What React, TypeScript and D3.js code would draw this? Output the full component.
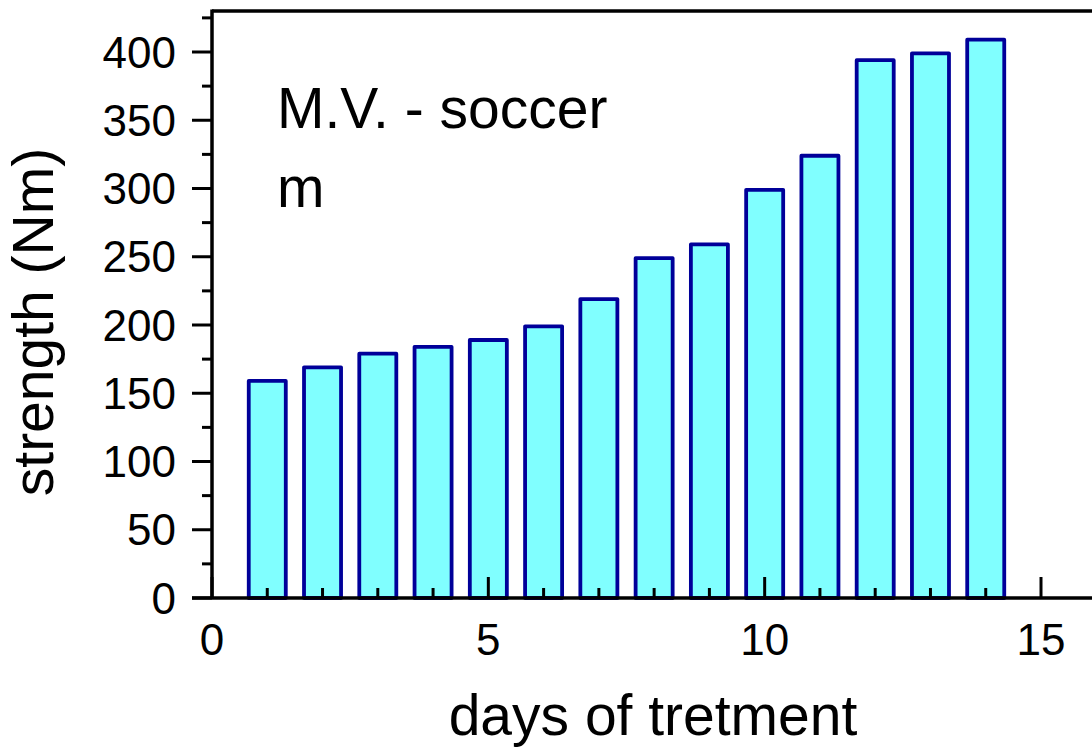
import React from "react";
import * as d3 from "d3";

const days = [1, 2, 3, 4, 5, 6, 7, 8, 9, 10, 11, 12, 13, 14];
const strength = [159, 169, 179, 184, 189, 199, 219, 249, 259, 299, 324, 394, 399, 409];
const xMajorTicks = [0, 5, 10, 15];
const xMinorTicks = d3.range(0, 16, 1);
const yMajorTicks = [0, 50, 100, 150, 200, 250, 300, 350, 400];
const yMinorTicks = d3.range(0, 430, 25);

const W = 1092;
const H = 749;
const FONT = "Arial, 'Liberation Sans', Helvetica, sans-serif";

export default function App() {
  const x = d3.scaleLinear().domain([0, 15]).range([212, 1041]);
  const y = d3.scaleLinear().domain([0, 400]).range([598, 52]);
  const yTop = y(430);
  const barW = x(0.67) - x(0);

  return (
    <svg
      width={W}
      height={H}
      style={{ position: "absolute", left: 0, top: 0, background: "#fff" }}
    >
      {/* bars */}
      {days.map((d, i) => (
        <rect
          key={d}
          x={x(d) - barW / 2}
          y={y(strength[i])}
          width={barW}
          height={y(0) - y(strength[i])}
          fill="#80FFFF"
          stroke="#000099"
          strokeWidth={3.8}
          strokeLinejoin="round"
        />
      ))}

      {/* frame lines */}
      <line x1={x(0)} x2={W} y1={yTop} y2={yTop} stroke="#000" strokeWidth={3.5} />
      <line x1={x(0)} x2={x(0)} y1={yTop - 1.5} y2={y(0)} stroke="#000" strokeWidth={3.5} />
      <line x1={192} x2={W} y1={y(0)} y2={y(0)} stroke="#000" strokeWidth={3.5} />

      {/* x ticks (inward) */}
      {xMinorTicks.map((t) => (
        <line
          key={"xm" + t}
          x1={x(t)}
          x2={x(t)}
          y1={y(0)}
          y2={y(0) - (xMajorTicks.includes(t) ? 21 : 10)}
          stroke="#000"
          strokeWidth={3}
        />
      ))}
      {xMajorTicks.map((t) => (
        <text
          key={"xl" + t}
          x={x(t)}
          y={655}
          textAnchor="middle"
          fontFamily={FONT}
          fontSize={44}
          fill="#000"
        >
          {t}
        </text>
      ))}

      {/* y ticks (outward) */}
      {yMinorTicks.map((t) => (
        <line
          key={"ym" + t}
          x1={x(0)}
          x2={x(0) - (t % 50 === 0 ? 20 : 10)}
          y1={y(t)}
          y2={y(t)}
          stroke="#000"
          strokeWidth={3}
        />
      ))}
      {yMajorTicks.map((t) => (
        <text
          key={"yl" + t}
          x={176}
          y={y(t) + 15.5}
          textAnchor="end"
          fontFamily={FONT}
          fontSize={44}
          fill="#000"
        >
          {t}
        </text>
      ))}

      {/* axis titles */}
      <text
        x={653}
        y={735}
        textAnchor="middle"
        fontFamily={FONT}
        fontSize={57}
        fill="#000"
      >
        days of tretment
      </text>
      <text
        transform={`translate(53, 322) rotate(-90)`}
        textAnchor="middle"
        fontFamily={FONT}
        fontSize={57}
        fill="#000"
      >
        strength (Nm)
      </text>

      {/* annotations */}
      <text x={277} y={128} fontFamily={FONT} fontSize={57} fill="#000">
        M.V. - soccer
      </text>
      <text x={277} y={207} fontFamily={FONT} fontSize={57} fill="#000">
        m
      </text>
    </svg>
  );
}
